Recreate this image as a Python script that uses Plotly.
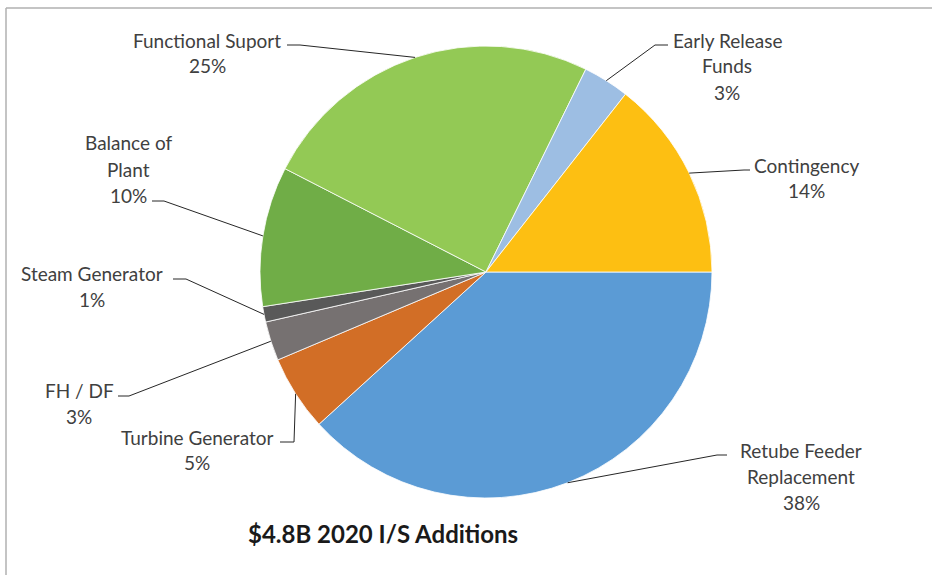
import math
import plotly.graph_objects as go

# Capital additions by category (percent of total), clockwise from 3 o'clock
categories = [
    "Retube Feeder Replacement",
    "Turbine Generator",
    "FH / DF",
    "Steam Generator",
    "Balance of Plant",
    "Functional Suport",
    "Early Release Funds",
    "Contingency",
]
values = [38.2, 5.4, 2.8, 1.1, 10.0, 24.7, 3.3, 14.4]
colors = ["#5B9BD5", "#D26E26", "#767171", "#595959",
          "#70AD47", "#93C955", "#9DBEE3", "#FDBF12"]

# Label text broken into display lines
label_lines = [
    ["Retube Feeder", "Replacement"],
    ["Turbine Generator"],
    ["FH / DF"],
    ["Steam Generator"],
    ["Balance of", "Plant"],
    ["Functional Suport"],
    ["Early Release", "Funds"],
    ["Contingency"],
]

title_text = "$4.8B 2020 I/S Additions"

W, H = 932, 575
CX, CY, R = 486, 272, 226  # pie centre and radius in pixels

# Label placement: (text centre x, first line y, leader start, leader elbow)
label_layout = [
    (801, 450, (727, 455), (717, 455)),
    (197, 437, (280, 442), (294, 442)),
    (79, 390, (118, 396), (129, 396)),
    (92, 273, (173, 279), (186, 279)),
    (128, 143, (152, 201), (164, 201)),
    (207, 40, (287, 45), (300, 45)),
    (727, 40, (668, 45), (655, 45)),
    (806, 165, (750, 170), (744, 170)),
]
LINE_STEP = 26
TEXT_COLOR = "#404040"
FONT = "Lato"


def px(x):
    return x / W


def py(y):
    return 1 - y / H


fig = go.Figure(go.Pie(
    labels=categories,
    values=values,
    sort=False,
    direction="clockwise",
    rotation=90,
    textinfo="none",
    hoverinfo="label+percent",
    marker=dict(colors=colors, line=dict(color="white", width=0.8)),
    domain=dict(x=[px(CX - R), px(CX + R)], y=[py(CY + R), py(CY - R)]),
    showlegend=False,
))

total = sum(values)
annotations = []
shapes = []
cum = 0.0
for name_lines, v, (tx, ty, start, elbow) in zip(label_lines, values, label_layout):
    mid = (cum + v / 2) / total * 2 * math.pi
    cum += v
    ex = CX + R * math.cos(mid)
    ey = CY + R * math.sin(mid)
    pct = f"{round(v / total * 100):d}%"
    lines = name_lines + [pct]
    for i, line in enumerate(lines):
        annotations.append(dict(
            x=px(tx), y=py(ty + i * LINE_STEP), xref="paper", yref="paper",
            text=line, showarrow=False, xanchor="center", yanchor="middle",
            font=dict(family=FONT, size=19, color=TEXT_COLOR),
        ))
    path = (f"M {px(start[0])},{py(start[1])} L {px(elbow[0])},{py(elbow[1])} "
            f"L {px(ex)},{py(ey)}")
    shapes.append(dict(type="path", path=path, xref="paper", yref="paper",
                       line=dict(color="#262626", width=1)))

annotations.append(dict(
    x=px(383), y=py(533), xref="paper", yref="paper",
    text=f"<b>{title_text}</b>", showarrow=False,
    xanchor="center", yanchor="middle",
    font=dict(family=FONT, size=24, color="#1a1a1a"),
))

# Chart-area frame (top and left edges visible)
shapes.append(dict(type="line", xref="paper", yref="paper",
                   x0=px(6), y0=py(8), x1=1.02, y1=py(8),
                   line=dict(color="#b0b0b0", width=1.5)))
shapes.append(dict(type="line", xref="paper", yref="paper",
                   x0=px(6), y0=py(8), x1=px(6), y1=-0.02,
                   line=dict(color="#b0b0b0", width=1.5)))

fig.update_layout(
    width=W, height=H,
    margin=dict(l=0, r=0, t=0, b=0),
    paper_bgcolor="white",
    plot_bgcolor="white",
    annotations=annotations,
    shapes=shapes,
)

fig.write_html("out.html")
